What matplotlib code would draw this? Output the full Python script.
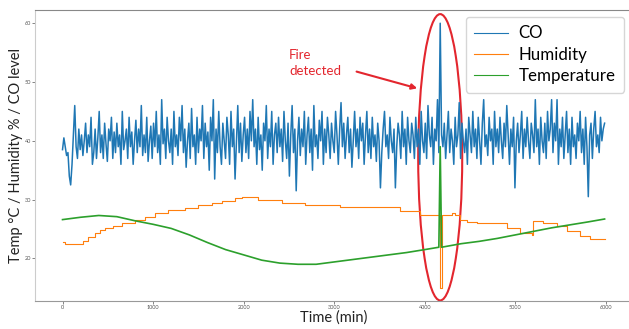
import numpy as np
from matplotlib import pyplot as plt
from matplotlib.patches import Ellipse

plt.rcParams['font.family'] = ['Lato', 'DejaVu Sans']

# CO level, one reading every 15 min from t=0
co_level = [
38.5, 40.5, 39, 37.5, 38, 34, 32.5, 36, 41, 46, 39, 37, 42, 38.5, 41, 37.5, 40, 43, 38, 41,
39, 44, 36, 38, 42, 37, 40.5, 45, 38, 41, 37, 43, 39.5, 36.5, 42, 40, 44, 37, 41.5, 38,
43, 39, 41, 36, 45, 38.5, 40, 42, 37, 44, 39, 41.5, 36, 40, 43.5, 38, 42, 39, 46, 37.5,
41, 38, 44, 36.5, 40, 42.5, 37, 43, 39, 45, 38, 41, 36, 47, 39.5, 42, 37, 44, 40, 38,
42, 36, 45, 39, 41, 37.5, 44, 40, 46, 38, 42, 35.5, 40, 43, 37, 45.5, 39, 41, 36, 44,
38, 42, 40, 46, 37, 43, 39, 41.5, 35, 44, 40, 47, 33.5, 42, 38, 45, 39, 36, 43, 40,
37, 44, 41, 36, 45, 39, 42, 33.5, 40, 46, 38, 43, 36.5, 41, 44, 38, 42, 37, 45, 40,
47, 39, 42, 36, 44, 38.5, 41, 35, 43, 40, 46, 37, 42, 39, 45, 36, 41, 43, 38, 44,
39, 42, 36.5, 45, 40, 37, 43, 34, 41, 46, 38, 42, 31.5, 40, 44, 37.5, 42, 39, 45, 36,
41, 44, 38, 42, 35, 46, 39, 41, 37, 43.5, 40, 45, 36, 42, 38, 44, 41, 37, 43, 40,
38, 45, 41, 36, 42, 46.5, 39, 43, 37, 41, 44, 38, 42, 35.5, 40, 45, 39, 42, 37, 44,
40, 43, 36, 41, 45, 38, 42, 37, 44, 39, 41, 36.5, 43, 40, 32, 38, 42, 45, 39, 41,
37, 44, 40, 38, 42, 32, 39, 43, 41, 37, 45, 39, 42, 36, 44, 40, 38, 43, 41, 37,
44, 39, 42, 36, 45, 40, 38, 43, 37, 46, 41, 39, 44, 36, 42, 40, 47, 38, 60, 41,
39, 43, 37, 41, 45, 38, 42, 40, 36, 44, 39, 41, 46.5, 37, 43, 40, 38, 42, 36, 44,
41, 38, 45, 39, 42, 37, 44, 40, 36, 43, 47, 39, 41, 37.5, 44, 40, 42, 36, 45, 39,
42, 38, 44, 40, 37, 43, 39, 46, 41, 36, 42, 39, 44, 32, 40, 43, 38, 41, 45, 37,
42, 39, 44, 40, 37, 43, 41, 38, 47, 39, 42, 36, 44, 40, 38, 43, 37, 45, 40, 42,
47, 38, 43, 40, 47, 36, 42, 39, 44, 37, 41, 45, 38, 42, 36, 44, 39, 41, 37, 43,
40, 45, 38, 42, 36, 44, 39, 30.5, 41, 43, 37, 42, 45, 39, 41, 38, 44, 40, 42, 43]
co_time = np.arange(len(co_level)) * 15

# humidity changes (minute, value), drawn as steps
hum_time = [0, 30, 230, 285, 359, 414, 469, 561, 653, 800, 911, 1021, 1168, 1352, 1499,
            1647, 1757, 1904, 1978, 2161, 2419, 2677, 3067, 3725, 3946, 4170, 4185, 4300,
            4330, 4387, 4461, 4572, 4903, 5050, 5179, 5197, 5307, 5455, 5565, 5712, 5822, 5985]
humidity = [22.8, 22.4, 23.0, 23.7, 24.4, 24.8, 25.1, 25.5, 26.0, 26.5, 27.1, 27.7, 28.2, 28.5, 29.0,
            29.4, 29.8, 30.2, 30.5, 29.9, 29.5, 29.0, 28.8, 28.0, 27.4, 15.0, 27.4, 27.8,
            27.4, 26.5, 26.2, 26.0, 25.1, 24.3, 24.0, 26.4, 26.0, 25.5, 24.7, 23.8, 23.3, 23.3]

# temperature readings
temp_time = [0, 200, 400, 600, 800, 1000, 1200, 1400, 1600, 1800, 2000, 2200, 2400, 2600, 2800,
             3000, 3200, 3400, 3600, 3800, 4000, 4155, 4170, 4185, 4400, 4600, 4800, 5000,
             5200, 5400, 5600, 5800, 5985]
temperature = [26.6, 27.0, 27.3, 27.1, 26.4, 25.8, 25.1, 24.0, 22.7, 21.5, 20.6, 19.7, 19.2, 19.0, 19.0,
               19.4, 19.8, 20.2, 20.6, 21.0, 21.5, 21.9, 39.0, 21.9, 22.5, 22.9, 23.4, 24.0,
               24.6, 25.2, 25.7, 26.2, 26.7]

fire_time = 4170

fig = plt.figure(figsize=(6.29, 3.29), dpi=100)
ax = fig.add_axes([0.0563, 0.085, 0.948, 0.8846])
ax.plot(co_time, co_level, color='#1f77b4', lw=1.1, label='CO')
ax.plot(hum_time, humidity, color='#ff7f0e', lw=0.8, drawstyle='steps-post', label='Humidity')
ax.plot(temp_time, temperature, color='#2ca02c', lw=1.2, label='Temperature')
ax.autoscale_view()
ax.set_autoscale_on(False)

ax.set_xlabel('Time (min)', fontsize=10.5, color='#222222', labelpad=0)
ax.set_ylabel('Temp °C / Humidity % / CO level', fontsize=10.5, color='#222222', labelpad=1)
ax.tick_params(labelsize=4, colors='#555555', length=2, width=0.5, pad=1)
ax.spines['top'].set_color('#888888')
ax.spines['left'].set_color('#cccccc')
ax.spines['bottom'].set_color('#999999')
ax.spines['right'].set_visible(False)

leg = ax.legend(loc='upper right', bbox_to_anchor=(0.987, 0.976), borderaxespad=0,
                fontsize=12.2, handlelength=2.0, handletextpad=0.6, labelspacing=0.32, borderpad=0.5)
for ln in leg.get_lines():
    ln.set_linewidth(0.8)

# annotation added on top of the plot
ax.add_patch(Ellipse((fire_time, 37.2), 486, 48.7, fill=False, edgecolor='#e3262e', lw=1.5, clip_on=False))
ax.text(2500, 55.7, 'Fire\ndetected', color='#e3262e', fontsize=9.5, va='top', ha='left', linespacing=1.45)
ax.annotate('', xy=(3946, 48.8), xytext=(3217, 51.9),
            arrowprops=dict(arrowstyle='-|>', color='#e3262e', lw=1.5, mutation_scale=8))

plt.savefig('out.png', dpi=100)
